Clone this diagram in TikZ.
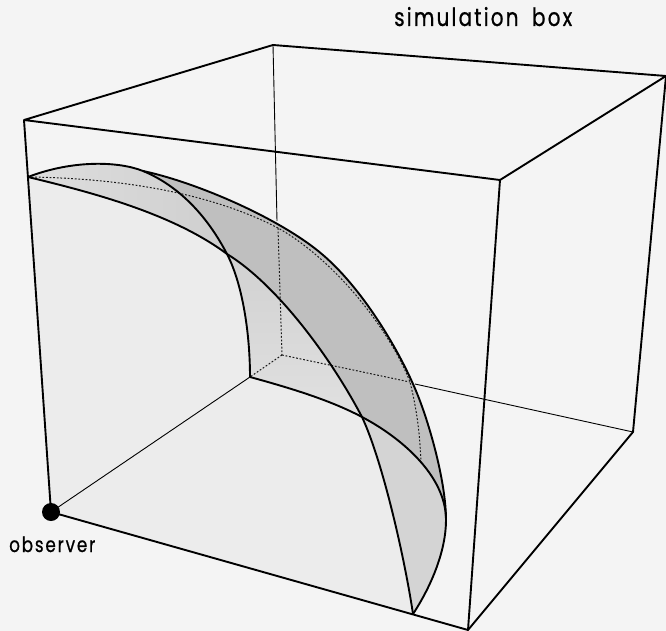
\documentclass[tikz,border=0pt]{standalone}
\usepackage{fontspec}
\setmainfont{Poppins}
\newfontfamily\lblbig[FakeStretch=0.8,LetterSpace=8.6,WordSpace=1.8,FakeBold=0.7]{Poppins}
\newfontfamily\lblsmall[FakeStretch=0.8,LetterSpace=8.5,FakeBold=0.7]{Poppins}
\definecolor{bg}{gray}{0.955}
\definecolor{wall}{gray}{0.925}
\definecolor{bandB}{gray}{0.75}
\tikzset{
 thick line/.style={line width=1.9pt,line join=round},
 thin line/.style={line width=0.9pt},
 dot line/.style={line width=1pt,dash pattern=on 1.8pt off 1.8pt,black!90},
 label text/.style={inner sep=0pt}
}
\begin{document}
\begin{tikzpicture}[x=1pt,y=-1pt]
\useasboundingbox (0,0) rectangle (666,631);
\fill[bg] (0,0) rectangle (666,631);
% box corners
\coordinate (A) at (273,45);
\coordinate (B) at (666,76);
\coordinate (C) at (500,180);
\coordinate (D) at (24,120);
\coordinate (O) at (51,512);
\coordinate (F) at (468,630);
\coordinate (G) at (633,432);
\coordinate (H) at (282,355);
% sphere points
\coordinate (P) at (28,177);
\coordinate (Q) at (250,377);
\coordinate (R) at (413,614);
\coordinate (X1) at (227,254);
\coordinate (X2) at (362,417);
\coordinate (X3) at (143,171);
\coordinate (X5) at (446,520);
\coordinate (S) at (323,255);
\coordinate (U) at (420,401);
\coordinate (V) at (421,463);
\coordinate (W) at (410,382);
\coordinate (W2) at (415,384);
\coordinate (T) at (278,228);
\coordinate (T2) at (277,221);
% wall
\fill[wall] (O) -- (P) .. controls (90,192) and (172,213) .. (X1) .. controls (276,284) and (330,356) .. (X2) .. controls (383,462) and (405,560) .. (R) -- cycle;
% band between the two arcs at the upper left
\shade[left color=black!13,right color=black!19] (P) .. controls (72,160) and (118,161) .. (X3) .. controls (172,183) and (203,208) .. (X1) .. controls (172,213) and (90,192) .. (P) -- cycle;
% dark band
\fill[bandB] (X3) .. controls (195,182) and (280,218) .. (S) .. controls (365,291) and (404,358) .. (U) .. controls (432,433) and (446,485) .. (X5) .. controls (446,475) and (400,437) .. (X2) .. controls (330,356) and (276,284) .. (X1) .. controls (203,208) and (172,183) .. (X3) -- cycle;
% inner band
\shade[top color=black!18,bottom color=black!12] (X1) .. controls (243,285) and (250,335) .. (Q) .. controls (290,388) and (330,400) .. (X2) .. controls (330,356) and (276,284) .. (X1) -- cycle;
% lower band
\fill[black!17] (X2) .. controls (400,437) and (446,475) .. (X5) .. controls (446,550) and (432,585) .. (R) .. controls (405,560) and (383,462) .. (X2) -- cycle;
% thin back lines
\draw[thin line] (A) -- (T2);
\draw[thin line] (O) -- (Q);
\draw[thin line] (W2) -- (G);
% dotted hidden lines
\draw[dot line] (P) .. controls (110,178) and (205,190) .. (T) .. controls (335,260) and (390,330) .. (W) .. controls (417,410) and (420,435) .. (V);
\draw[dot line] (T) -- (H);
\draw[dot line] (H) -- (Q);
\draw[dot line] (H) -- (W);
% sphere edges
\draw[thick line] (P) .. controls (90,192) and (172,213) .. (X1) .. controls (276,284) and (330,356) .. (X2) .. controls (383,462) and (405,560) .. (R);
\draw[thick line] (Q) .. controls (250,335) and (243,285) .. (X1) .. controls (203,208) and (172,183) .. (X3) .. controls (118,161) and (72,160) .. (P);
\draw[thick line] (X3) .. controls (195,182) and (280,218) .. (S) .. controls (365,291) and (404,358) .. (U) .. controls (432,433) and (446,485) .. (X5) .. controls (446,550) and (432,585) .. (R);
\draw[thick line] (Q) .. controls (290,388) and (330,400) .. (X2) .. controls (400,437) and (446,475) .. (X5);
% box front
\draw[thick line] (A) -- (D) -- (C) -- (B) -- cycle;
\draw[thick line] (D) -- (O) -- (F) -- (C);
\draw[thick line] (F) -- (G) -- (B);
% observer
\node[circle,fill=black,minimum size=18pt,inner sep=0pt] (obs) at (O) {};
\node[label text,anchor=base west] (obslabel) at (9,552) {\lblsmall\fontsize{21}{24}\selectfont observer};
\node[label text,anchor=base west] (boxlabel) at (394,26) {\lblbig\fontsize{25}{28}\selectfont simulation box};
\end{tikzpicture}
\end{document}
